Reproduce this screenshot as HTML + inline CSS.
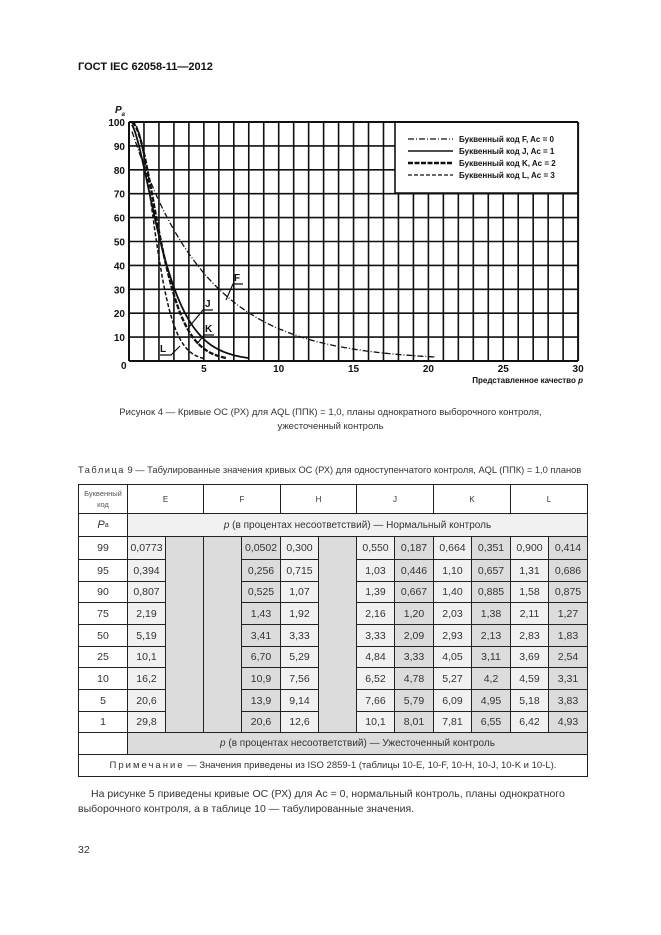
<!DOCTYPE html>
<html><head><meta charset="utf-8"><style>
body{margin:0;background:#fff;font-family:"Liberation Sans",sans-serif;color:#222}
#pg{position:relative;width:661px;height:935px;overflow:hidden}
.t{position:absolute;white-space:nowrap}
.c{position:absolute;box-sizing:border-box;display:flex;align-items:center;justify-content:center;font-size:10.5px;color:#333}
</style></head><body><div id="pg">
<div class="t" style="left:78px;top:61px;font-size:11px;font-weight:bold;color:#111">ГОСТ IEC 62058-11—2012</div>
<svg id="ch" width="661" height="400" style="position:absolute;left:0;top:0"></svg>
<div class="t" style="left:0;width:661px;text-align:center;top:407px;font-size:9.5px;color:#333">Рисунок 4 — Кривые ОС (РХ) для AQL (ППК) = 1,0, планы однократного выборочного контроля,</div>
<div class="t" style="left:0;width:661px;text-align:center;top:421px;font-size:9.5px;color:#333">ужесточенный контроль</div>
<div class="t" style="left:78px;top:465px;font-size:9.3px;color:#333"><span style="letter-spacing:1.5px">Таблица</span> 9 — Табулированные значения кривых ОС (РХ) для одноступенчатого контроля, AQL (ППК) = 1,0 планов</div>
<div id="tb"></div>
<div class="t" style="left:91px;top:788px;font-size:10.5px;color:#333">На рисунке 5 приведены кривые ОС (РХ) для Ас = 0, нормальный контроль, планы однократного</div>
<div class="t" style="left:78px;top:803px;font-size:10.5px;color:#333">выборочного контроля, а в таблице 10 — табулированные значения.</div>
<div class="t" style="left:78px;top:844px;font-size:10.5px;color:#333">32</div>
</div>
<script>
var s='',X0=129,XS=14.97,Y0=361,YS=2.39;
function px(p){return X0+p*XS} function py(v){return Y0-v*YS}
// grid
for(var i=0;i<=30;i++){var x=px(i);s+='<line x1="'+x+'" y1="'+(i>=18&&i<30?193:122)+'" x2="'+x+'" y2="361" stroke="#111" stroke-width="'+(i==0||i==30?2:1.6)+'"/>';}
for(var j=0;j<=10;j++){var y=py(j*10);s+='<line x1="129" y1="'+y+'" x2="'+(j>=8&&j<10?395:578)+'" y2="'+y+'" stroke="#111" stroke-width="'+(j==0||j==10?2:1.6)+'"/>';}
s+='<line x1="395" y1="122" x2="395" y2="193" stroke="#111" stroke-width="1.6"/><line x1="395" y1="193" x2="578" y2="193" stroke="#111" stroke-width="1.6"/>';
s+='<rect x="396" y="123" width="181" height="69" fill="#fff"/>';
for(var j=0;j<=10;j++)s+='<text x="125" y="'+(py(j*10)+4)+'" font-size="10" font-weight="bold" text-anchor="end" fill="#111">'+(j?j*10:'')+'</text>';
s+='<text x="121" y="369" font-size="10" font-weight="bold" fill="#111">0</text>';
[5,10,15,20,25,30].forEach(function(v){s+='<text x="'+px(v)+'" y="372" font-size="10" font-weight="bold" text-anchor="middle" fill="#111">'+v+'</text>'});
s+='<text x="583" y="383" font-size="8" font-weight="bold" text-anchor="end" fill="#111">Представленное качество <tspan font-style="italic">p</tspan></text>';
s+='<text x="115" y="113" font-size="10" font-weight="bold" font-style="italic" fill="#111">P<tspan font-size="6" dy="3">a</tspan></text>';
function oc(n,c,p){var m=n*p/100,t=Math.exp(-m),sum=t;for(var k=1;k<=c;k++){t*=m/k;sum+=t}return sum*100}
var cs=[[20,0,20.5,'6,2,1,2',1.3],[80,1,8,'',1.8],[125,2,6.5,'5,1.5',2.3],[200,3,5,'4,2',1.5]];
cs.forEach(function(c){var d='';for(var p=0.2;p<=c[2]+0.001;p+=0.1){d+=(d?'L':'M')+px(p).toFixed(1)+','+py(oc(c[0],c[1],p)).toFixed(1)}
s+='<path d="'+d+'" fill="none" stroke="#111" stroke-width="'+c[4]+'"'+(c[3]?' stroke-dasharray="'+c[3]+'"':'')+'/>'});
// legend
var lg=[['Буквенный код F, Ac = 0','6,2,1,2',1.2],['Буквенный код J, Ac = 1','',1.6],['Буквенный код K, Ac = 2','5,1.5',2.4],['Буквенный код L, Ac = 3','4,2',1.3]];
lg.forEach(function(l,i){var y=139+i*12;s+='<line x1="408" y1="'+y+'" x2="453" y2="'+y+'" stroke="#111" stroke-width="'+l[2]+'"'+(l[1]?' stroke-dasharray="'+l[1]+'"':'')+'/><text x="459" y="'+(y+3)+'" font-size="8" font-weight="bold" fill="#111">'+l[0]+'</text>'});
// labels
s+='<text x="234" y="281" font-size="10" font-weight="bold" fill="#111">F</text><polyline points="226,300 233,284 243,284" fill="none" stroke="#111" stroke-width="1.2"/>';
s+='<text x="205" y="307" font-size="10" font-weight="bold" fill="#111">J</text><polyline points="189,327 203,310 213,310" fill="none" stroke="#111" stroke-width="1.2"/>';
s+='<text x="205" y="332" font-size="10" font-weight="bold" fill="#111">K</text><polyline points="197,344 204,335 214,335" fill="none" stroke="#111" stroke-width="1.2"/>';
s+='<text x="160" y="352" font-size="10" font-weight="bold" fill="#111">L</text><polyline points="160,355 171,355 180,346" fill="none" stroke="#111" stroke-width="1.2"/>';
document.getElementById('ch').innerHTML=s;
// table
var cx=[78,127,165,203,241,280,318,356,394,433,471,510,548,587];
var ry=[484,513,536,559,581,602,624,646,667,689,711,732,754,776];
var L='#f1f1f1',D='#dcdcdc',h='';
function cell(x1,y1,x2,y2,txt,bg,fs,ex){h+='<div class="c" style="left:'+x1+'px;top:'+y1+'px;width:'+(x2-x1+1)+'px;height:'+(y2-y1+1)+'px;border:1px solid #222;background:'+(bg||'#fff')+';'+(fs?'font-size:'+fs+'px;':'')+(ex||'')+'">'+txt+'</div>'}
cell(cx[0],ry[0],cx[1],ry[1],'Буквенный<br>код','#fff',7.5,'line-height:11px;text-align:center;color:#555');
['E','F','H','J','K','L'].forEach(function(t,i){cell(cx[1+2*i],ry[0],cx[3+2*i],ry[1],t,'#fff',8)});
cell(cx[0],ry[1],cx[1],ry[2],'<i>P</i><sub style="font-size:7px">a</sub>','#fff',11);
cell(cx[1],ry[1],cx[13],ry[2],'<i>p</i>&nbsp;(в процентах несоответствий) — Нормальный контроль',L,10);
var pa=[99,95,90,75,50,25,10,5,1];
var dat=[['0,0773','','','0,0502','0,300','','0,550','0,187','0,664','0,351','0,900','0,414'],
['0,394','','','0,256','0,715','','1,03','0,446','1,10','0,657','1,31','0,686'],
['0,807','','','0,525','1,07','','1,39','0,667','1,40','0,885','1,58','0,875'],
['2,19','','','1,43','1,92','','2,16','1,20','2,03','1,38','2,11','1,27'],
['5,19','','','3,41','3,33','','3,33','2,09','2,93','2,13','2,83','1,83'],
['10,1','','','6,70','5,29','','4,84','3,33','4,05','3,11','3,69','2,54'],
['16,2','','','10,9','7,56','','6,52','4,78','5,27','4,2','4,59','3,31'],
['20,6','','','13,9','9,14','','7,66','5,79','6,09','4,95','5,18','3,83'],
['29,8','','','20,6','12,6','','10,1','8,01','7,81','6,55','6,42','4,93']];
var bgs=[L,D,D,D,L,D,L,D,L,D,L,D];
for(var r=0;r<9;r++){cell(cx[0],ry[2+r],cx[1],ry[3+r],pa[r],'#fff');
for(var c=0;c<12;c++){if((c==1||c==2||c==5)&&r>0)continue;
if(c==1||c==2||c==5){cell(cx[1+c],ry[2],cx[2+c],ry[11],'',D);continue}
cell(cx[1+c],ry[2+r],cx[2+c],ry[3+r],dat[r][c],bgs[c]);}}
cell(cx[0],ry[11],cx[1],ry[12],'','#fff');
cell(cx[1],ry[11],cx[13],ry[12],'<i>p</i>&nbsp;(в процентах несоответствий) — Ужесточенный контроль',D,10);
cell(cx[0],ry[12],cx[13],ry[13],'<span style="letter-spacing:2px">Примечание</span>&nbsp;— Значения приведены из ISO 2859-1 (таблицы 10-E, 10-F, 10-H, 10-J, 10-K и 10-L).','#fff',9.5);
document.getElementById('tb').innerHTML=h;
</script></body></html>
